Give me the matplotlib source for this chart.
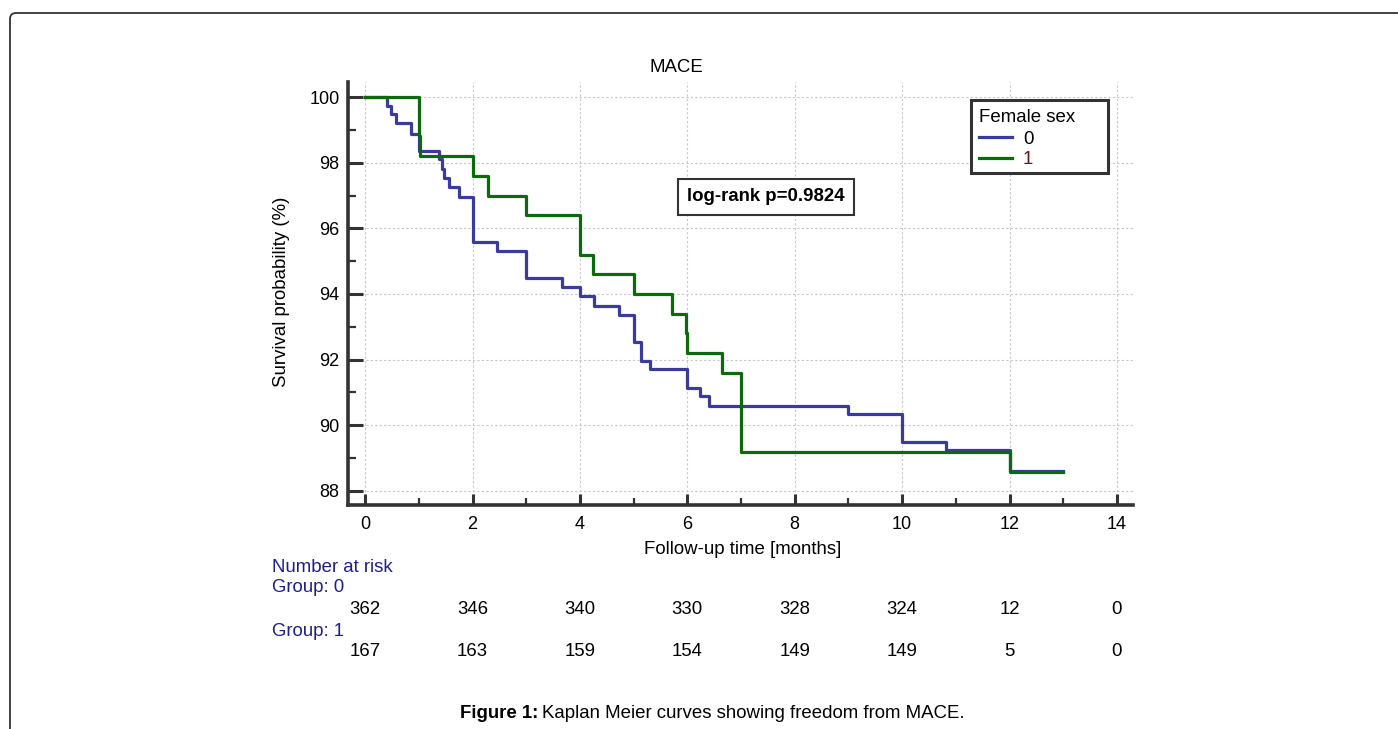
import matplotlib
matplotlib.use('Agg')
import matplotlib.pyplot as plt
from matplotlib.patches import FancyBboxPatch, Rectangle
from matplotlib.lines import Line2D
from matplotlib import transforms

plt.rcParams['font.family'] = ['Liberation Sans', 'DejaVu Sans']

# Kaplan-Meier steps (months, survival %)
t_male = [0, 0.40, 0.48, 0.57, 0.86, 1.0, 1.38, 1.43, 1.47, 1.57, 1.74, 2.0, 2.45, 3.0,
          3.66, 4.0, 4.27, 4.72, 5.0, 5.13, 5.31, 6.0, 6.24, 6.41, 9.0, 10.0, 10.82, 12.0, 13.0]
s_male = [100, 99.73, 99.47, 99.2, 98.89, 98.35, 98.1, 97.8, 97.52, 97.25, 96.96, 95.57, 95.3, 94.49,
          94.22, 93.94, 93.63, 93.35, 92.54, 91.96, 91.7, 91.15, 90.88, 90.6, 90.33, 89.5, 89.24, 88.62, 88.62]

t_female = [0, 1.0, 1.03, 2.0, 2.28, 3.0, 4.0, 4.25, 5.0, 5.71, 5.98, 6.0, 6.65, 7.0, 12.0, 13.0]
s_female = [100, 98.8, 98.2, 97.6, 97.0, 96.4, 95.2, 94.6, 94.0, 93.4, 92.8, 92.2, 91.6, 89.2, 88.58, 88.58]

groups = ['0', '1']
risk_times = [0, 2, 4, 6, 8, 10, 12, 14]
risk_g0 = [362, 346, 340, 330, 328, 324, 12, 0]
risk_g1 = [167, 163, 159, 154, 149, 149, 5, 0]

blue = '#3b3b9e'
green = '#0b6b0b'
navy = '#1f1f8c'
dark = '#333333'
fs = 13.4
vb = 'center_baseline'

W, H = 1398, 729
def fx(px):
    return px / W
def fy(py):
    return 1 - py / H

fig = plt.figure(figsize=(13.98, 7.29), dpi=100)
ax = fig.add_axes([fx(348), fy(505), (1133 - 348) / W, (505 - 82) / H])

ax.step(t_male, s_male, where='post', color=blue, lw=2.3)
ax.step(t_female, s_female, where='post', color=green, lw=2.3)

ax.set_xlim(-0.32, 14.3)
ax.set_ylim(87.57, 100.46)
ax.set_xticks(range(0, 15, 2))
ax.set_xticks(range(1, 15, 2), minor=True)
ax.set_yticks(range(88, 101, 2))
ax.set_yticks(range(89, 101, 2), minor=True)

for s in ['top', 'right']:
    ax.spines[s].set_visible(False)
for s in ['left', 'bottom']:
    ax.spines[s].set_linewidth(2.6)
    ax.spines[s].set_color(dark)

ax.tick_params(axis='both', which='major', direction='in', color=dark, width=2.2, labelsize=13)
ax.tick_params(axis='y', which='major', length=11, pad=6)
ax.tick_params(axis='y', which='minor', direction='in', color=dark, width=1.6, length=6)
ax.tick_params(axis='x', which='major', length=8, pad=8)
ax.tick_params(axis='x', which='minor', direction='in', color=dark, width=1.6, length=5)
ax.grid(True, which='major', color='#c8c8c8', linestyle=(0, (2, 2)), linewidth=0.8)
ax.set_axisbelow(True)

fig.text(fx(676), fy(66), 'MACE', ha='center', va=vb, fontsize=fs)
fig.text(fx(281), fy(292), 'Survival probability (%)', rotation=90,
         ha='center', va='center', fontsize=fs)
fig.text(fx(743), fy(548), 'Follow-up time [months]', ha='center', va=vb, fontsize=fs)

# log-rank box
fig.text(fx(766), fy(197), 'log-rank p=0.9824', ha='center', va='center',
         fontsize=fs, fontweight='bold',
         bbox=dict(boxstyle='square,pad=0.5', facecolor='white', edgecolor=dark, linewidth=1.5))

# legend (drawn by hand so the box keeps its size)
fig.patches.append(Rectangle((fx(971), fy(173)), (1108 - 971) / W, (173 - 100) / H,
                             transform=fig.transFigure, facecolor='white', edgecolor=dark,
                             linewidth=2.2, zorder=5))
fig.text(fx(979), fy(116), 'Female sex', ha='left', va=vb, fontsize=fs, zorder=6)
for g, col, tcol, py in zip(groups, [blue, green], ['black', '#5c1a1a'], [137, 158]):
    fig.add_artist(Line2D([fx(979), fx(1012)], [fy(py), fy(py)], color=col, lw=2.3,
                          transform=fig.transFigure, zorder=6))
    fig.text(fx(1023), fy(py), g, ha='left', va=vb, fontsize=fs, color=tcol, zorder=6)

# number at risk table
trans = transforms.blended_transform_factory(ax.transData, fig.transFigure)
fig.text(fx(272), fy(565), 'Number at risk', color=navy, fontsize=fs, va=vb)
fig.text(fx(272), fy(586), 'Group: 0', color=navy, fontsize=fs, va=vb)
fig.text(fx(272), fy(629), 'Group: 1', color=navy, fontsize=fs, va=vb)
for t, n0, n1 in zip(risk_times, risk_g0, risk_g1):
    ax.text(t, fy(607), str(n0), transform=trans, ha='center', va=vb, fontsize=fs)
    ax.text(t, fy(650), str(n1), transform=trans, ha='center', va=vb, fontsize=fs)

# caption
fig.text(fx(538), fy(712), 'Figure 1:', ha='right', va=vb, fontsize=fs, fontweight='bold')
fig.text(fx(542), fy(712), 'Kaplan Meier curves showing freedom from MACE.',
         ha='left', va=vb, fontsize=fs)

# outer frame
frame = FancyBboxPatch((10, -30), 1500, 729 - 13 + 30, boxstyle='round,pad=0,rounding_size=6',
                       transform=transforms.IdentityTransform(), facecolor='none',
                       edgecolor=dark, linewidth=1.3)
fig.patches.append(frame)

fig.savefig('out.png', dpi=100)
